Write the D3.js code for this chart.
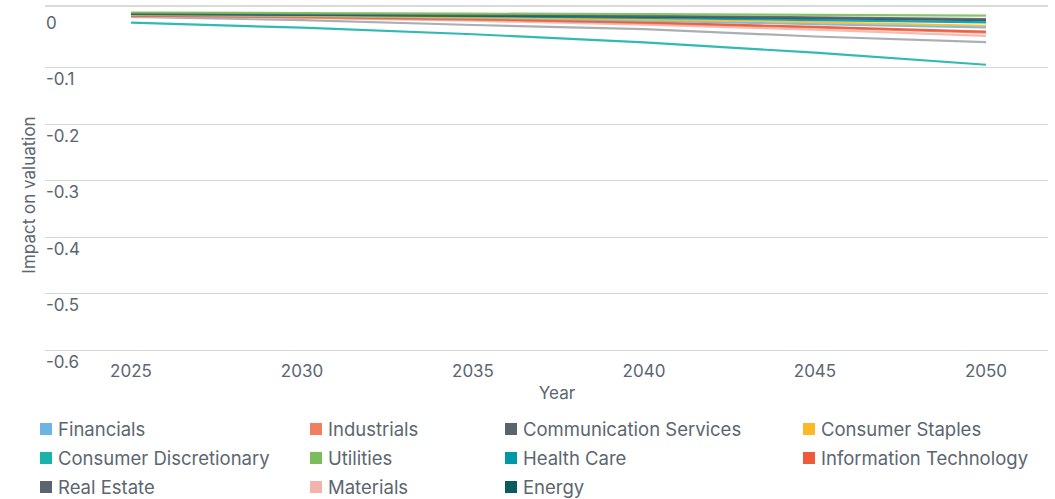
<!DOCTYPE html>
<html>
<head>
<meta charset="utf-8">
<script src="https://cdn.jsdelivr.net/npm/d3@7"></script>
<style>
  body { margin: 0; background: #fff; }
  svg { font-family: Inter, "Noto Sans", sans-serif; }
  .tick-label { fill: #5b6670; font-size: 17px; }
  .legend text { fill: #5b6670; font-size: 18.5px; }
</style>
</head>
<body>
<div id="chart"></div>
<script>
// data
var years = [2025, 2030, 2035, 2040, 2045, 2050];
var yTicks = [0, -0.1, -0.2, -0.3, -0.4, -0.5, -0.6];

var sectors = ['Financials', 'Industrials', 'Communication Services', 'Consumer Staples',
               'Consumer Discretionary', 'Utilities', 'Health Care', 'Information Technology',
               'Real Estate', 'Materials', 'Energy'];

var financials     = [-0.008, -0.010, -0.013, -0.018, -0.024, -0.030];
var industrials    = [-0.009, -0.012, -0.016, -0.022, -0.030, -0.039];
var commServices   = [-0.005, -0.0065, -0.008, -0.0095, -0.012, -0.015];
var consStaples    = [-0.007, -0.009, -0.012, -0.016, -0.021, -0.027];
var consDiscr      = [-0.0216, -0.0304, -0.042, -0.0563, -0.0747, -0.096];
var utilities      = [-0.0035, -0.0045, -0.0055, -0.0065, -0.0078, -0.0092];
var healthCare     = [-0.006, -0.008, -0.010, -0.013, -0.017, -0.021];
var infoTech       = [-0.009, -0.011, -0.015, -0.021, -0.029, -0.0375];
var realEstate     = [-0.0115, -0.017, -0.0257, -0.033, -0.046, -0.056];
var materials      = [-0.010, -0.013, -0.018, -0.025, -0.034, -0.045];
var energy         = [-0.006, -0.0075, -0.009, -0.011, -0.0135, -0.017];

var seriesValues = [financials, industrials, commServices, consStaples, consDiscr, utilities,
                    healthCare, infoTech, realEstate, materials, energy];

var colors = ['#6bb5e5', '#f07f5f', '#5b636c', '#fdb827', '#19b3a8', '#7cbd5b',
              '#0098a8', '#ee5a3a', '#5b636c', '#f4b3aa', '#0a5a5e'];
// real estate line is drawn lighter than its legend key
var lineColors = colors.slice();
lineColors[8] = '#a1a6ac';

var W = 1055, H = 499;
var svg = d3.select('#chart').append('svg')
    .attr('width', W)
    .attr('height', H);

var x = d3.scaleLinear().domain([2025, 2050]).range([131, 986]);
var y = d3.scaleLinear().domain([-0.6, 0]).range([349.5, 10.5]);

// top border line and gridlines
svg.append('line')
    .attr('x1', 45).attr('x2', 1048)
    .attr('y1', 6).attr('y2', 6)
    .attr('stroke', '#cfcfcf').attr('stroke-width', 1.5);

svg.append('g').selectAll('line')
    .data(yTicks.filter(function(d) { return d !== 0; }))
    .enter().append('line')
    .attr('x1', 45).attr('x2', 1048)
    .attr('y1', function(d) { return Math.round(y(d)) + 0.5; })
    .attr('y2', function(d) { return Math.round(y(d)) + 0.5; })
    .attr('stroke', '#d6d6d6').attr('stroke-width', 1.2);

// y tick labels, sit under their gridline
svg.append('g').selectAll('text')
    .data(yTicks)
    .enter().append('text')
    .attr('class', 'tick-label')
    .attr('x', 46)
    .attr('y', function(d) { return y(d) + 18; })
    .text(function(d) { return d === 0 ? '0' : d.toFixed(1); });

// x tick labels
svg.append('g').selectAll('text')
    .data(years)
    .enter().append('text')
    .attr('class', 'tick-label')
    .attr('text-anchor', 'middle')
    .attr('x', function(d) { return x(d); })
    .attr('y', 377)
    .text(function(d) { return d; });

// axis titles
svg.append('text')
    .attr('class', 'tick-label')
    .attr('text-anchor', 'middle')
    .attr('x', 557).attr('y', 399)
    .text('Year');

svg.append('text')
    .attr('class', 'tick-label')
    .attr('text-anchor', 'middle')
    .attr('transform', 'translate(35,195) rotate(-90)')
    .text('Impact on valuation');

// lines
var line = d3.line()
    .x(function(d, i) { return x(years[i]); })
    .y(function(d) { return y(d); });

// draw in an order close to the reference stacking
var order = [4, 8, 9, 1, 7, 0, 3, 6, 10, 2, 5];
svg.append('g').selectAll('path')
    .data(order)
    .enter().append('path')
    .attr('d', function(i) { return line(seriesValues[i]); })
    .attr('fill', 'none')
    .attr('stroke', function(i) { return lineColors[i]; })
    .attr('stroke-opacity', 0.9)
    .attr('stroke-width', 2.2);

// legend
var legendCols = [40, 310, 505, 803];
var legendRows = [423, 452, 481];
var legend = svg.append('g').attr('class', 'legend');
var items = legend.selectAll('g')
    .data(sectors)
    .enter().append('g')
    .attr('transform', function(d, i) {
        return 'translate(' + legendCols[i % 4] + ',' + legendRows[Math.floor(i / 4)] + ')';
    });

items.append('rect')
    .attr('width', 12).attr('height', 12)
    .attr('fill', function(d, i) { return colors[i]; });

items.append('text')
    .attr('x', 18)
    .attr('y', 12.5)
    .text(function(d) { return d; });
</script>
</body>
</html>
